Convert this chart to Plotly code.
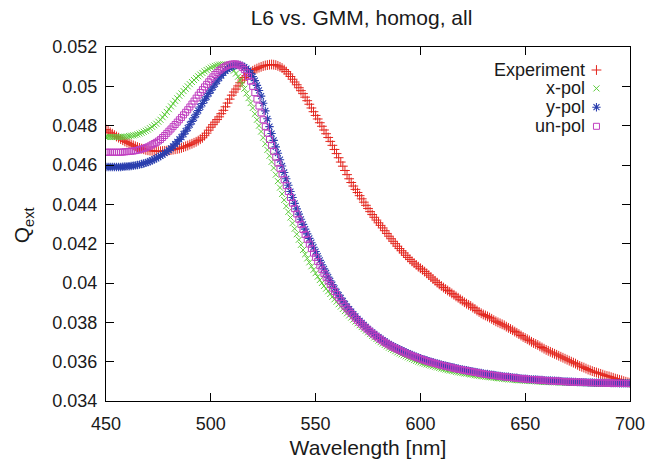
import plotly.graph_objects as go

# Wavelength grid (nm), 1 nm steps
wavelength = list(range(450, 701))

# Extinction efficiency Q_ext for each series
qext_experiment = [
    0.04780, 0.04773, 0.04766, 0.04759, 0.04752, 0.04745, 0.04739, 0.04732, 0.04726, 0.04720,
    0.04715, 0.04710, 0.04705, 0.04700, 0.04695, 0.04691, 0.04687, 0.04683, 0.04680, 0.04677,
    0.04675, 0.04673, 0.04672, 0.04671, 0.04670, 0.04670, 0.04670, 0.04671, 0.04672, 0.04673,
    0.04675, 0.04676, 0.04678, 0.04680, 0.04682, 0.04684, 0.04687, 0.04691, 0.04695, 0.04699,
    0.04704, 0.04708, 0.04713, 0.04718, 0.04724, 0.04731, 0.04738, 0.04749, 0.04762, 0.04777,
    0.04792, 0.04805, 0.04818, 0.04831, 0.04845, 0.04861, 0.04878, 0.04896, 0.04915, 0.04935,
    0.04955, 0.04971, 0.04986, 0.05002, 0.05018, 0.05032, 0.05045, 0.05054, 0.05063, 0.05071,
    0.05079, 0.05085, 0.05090, 0.05095, 0.05099, 0.05103, 0.05106, 0.05108, 0.05110, 0.05111,
    0.05110, 0.05108, 0.05104, 0.05099, 0.05093, 0.05085, 0.05075, 0.05063, 0.05050, 0.05036,
    0.05022, 0.05008, 0.04993, 0.04978, 0.04963, 0.04945, 0.04927, 0.04909, 0.04890, 0.04871,
    0.04852, 0.04834, 0.04815, 0.04797, 0.04778, 0.04759, 0.04740, 0.04720, 0.04700, 0.04679,
    0.04658, 0.04637, 0.04615, 0.04594, 0.04572, 0.04551, 0.04530, 0.04511, 0.04493, 0.04476,
    0.04460, 0.04444, 0.04428, 0.04411, 0.04395, 0.04379, 0.04363, 0.04348, 0.04334, 0.04320,
    0.04306, 0.04293, 0.04280, 0.04266, 0.04252, 0.04238, 0.04225, 0.04212, 0.04200, 0.04187,
    0.04175, 0.04164, 0.04153, 0.04141, 0.04130, 0.04120, 0.04110, 0.04101, 0.04092, 0.04083,
    0.04075, 0.04067, 0.04058, 0.04049, 0.04040, 0.04030, 0.04020, 0.04011, 0.04002, 0.03993,
    0.03985, 0.03977, 0.03969, 0.03962, 0.03955, 0.03947, 0.03940, 0.03932, 0.03925, 0.03917,
    0.03910, 0.03902, 0.03895, 0.03889, 0.03883, 0.03875, 0.03868, 0.03860, 0.03853, 0.03846,
    0.03840, 0.03835, 0.03830, 0.03824, 0.03818, 0.03811, 0.03805, 0.03800, 0.03795, 0.03790,
    0.03785, 0.03778, 0.03772, 0.03766, 0.03760, 0.03753, 0.03747, 0.03740, 0.03733, 0.03726,
    0.03720, 0.03714, 0.03708, 0.03701, 0.03695, 0.03690, 0.03685, 0.03678, 0.03672, 0.03666,
    0.03660, 0.03655, 0.03650, 0.03645, 0.03640, 0.03635, 0.03630, 0.03625, 0.03620, 0.03615,
    0.03610, 0.03605, 0.03600, 0.03595, 0.03590, 0.03584, 0.03578, 0.03574, 0.03570, 0.03565,
    0.03560, 0.03556, 0.03552, 0.03548, 0.03545, 0.03541, 0.03538, 0.03534, 0.03530, 0.03527,
    0.03525, 0.03521, 0.03518, 0.03514, 0.03511, 0.03508, 0.03505, 0.03501, 0.03498, 0.03495,
    0.03493,
]

qext_xpol = [
    0.04743, 0.04743, 0.04742, 0.04742, 0.04742, 0.04742, 0.04742, 0.04742, 0.04743, 0.04744,
    0.04745, 0.04747, 0.04749, 0.04751, 0.04753, 0.04756, 0.04760, 0.04764, 0.04769, 0.04774,
    0.04780, 0.04787, 0.04794, 0.04802, 0.04810, 0.04820, 0.04830, 0.04843, 0.04856, 0.04870,
    0.04884, 0.04898, 0.04912, 0.04926, 0.04939, 0.04952, 0.04964, 0.04976, 0.04988, 0.05000,
    0.05011, 0.05022, 0.05032, 0.05042, 0.05051, 0.05060, 0.05068, 0.05076, 0.05083, 0.05089,
    0.05095, 0.05100, 0.05104, 0.05107, 0.05110, 0.05111, 0.05112, 0.05111, 0.05108, 0.05101,
    0.05092, 0.05080, 0.05065, 0.05049, 0.05032, 0.05011, 0.04988, 0.04964, 0.04940, 0.04915,
    0.04890, 0.04860, 0.04830, 0.04800, 0.04770, 0.04739, 0.04708, 0.04677, 0.04647, 0.04616,
    0.04585, 0.04551, 0.04518, 0.04485, 0.04453, 0.04422, 0.04391, 0.04362, 0.04333, 0.04304,
    0.04276, 0.04248, 0.04220, 0.04194, 0.04168, 0.04146, 0.04125, 0.04105, 0.04085, 0.04067,
    0.04050, 0.04032, 0.04015, 0.04000, 0.03985, 0.03971, 0.03958, 0.03944, 0.03930, 0.03917,
    0.03905, 0.03892, 0.03880, 0.03868, 0.03857, 0.03846, 0.03835, 0.03824, 0.03814, 0.03804,
    0.03795, 0.03785, 0.03776, 0.03767, 0.03758, 0.03749, 0.03740, 0.03731, 0.03723, 0.03715,
    0.03707, 0.03699, 0.03692, 0.03685, 0.03678, 0.03671, 0.03665, 0.03659, 0.03653, 0.03647,
    0.03642, 0.03637, 0.03632, 0.03627, 0.03622, 0.03617, 0.03613, 0.03608, 0.03604, 0.03600,
    0.03596, 0.03592, 0.03589, 0.03586, 0.03583, 0.03580, 0.03577, 0.03574, 0.03571, 0.03568,
    0.03565, 0.03562, 0.03560, 0.03557, 0.03555, 0.03553, 0.03551, 0.03548, 0.03546, 0.03544,
    0.03542, 0.03540, 0.03539, 0.03537, 0.03535, 0.03533, 0.03531, 0.03529, 0.03528, 0.03526,
    0.03525, 0.03523, 0.03522, 0.03521, 0.03520, 0.03518, 0.03517, 0.03516, 0.03515, 0.03513,
    0.03512, 0.03511, 0.03510, 0.03509, 0.03508, 0.03507, 0.03506, 0.03505, 0.03505, 0.03504,
    0.03503, 0.03502, 0.03502, 0.03501, 0.03501, 0.03500, 0.03499, 0.03498, 0.03498, 0.03497,
    0.03497, 0.03496, 0.03496, 0.03495, 0.03495, 0.03495, 0.03495, 0.03494, 0.03494, 0.03493,
    0.03493, 0.03492, 0.03492, 0.03492, 0.03492, 0.03491, 0.03491, 0.03491, 0.03491, 0.03490,
    0.03490, 0.03490, 0.03490, 0.03489, 0.03489, 0.03489, 0.03489, 0.03488, 0.03488, 0.03488,
    0.03488, 0.03488, 0.03488, 0.03487, 0.03487, 0.03487, 0.03487, 0.03487, 0.03487, 0.03487,
    0.03487,
]

qext_ypol = [
    0.04590, 0.04590, 0.04590, 0.04590, 0.04590, 0.04590, 0.04590, 0.04590, 0.04591, 0.04592,
    0.04593, 0.04594, 0.04595, 0.04596, 0.04598, 0.04600, 0.04602, 0.04605, 0.04608, 0.04611,
    0.04615, 0.04619, 0.04624, 0.04629, 0.04634, 0.04640, 0.04646, 0.04653, 0.04660, 0.04667,
    0.04675, 0.04685, 0.04695, 0.04706, 0.04718, 0.04730, 0.04742, 0.04757, 0.04772, 0.04788,
    0.04805, 0.04822, 0.04840, 0.04858, 0.04877, 0.04895, 0.04913, 0.04930, 0.04947, 0.04964,
    0.04980, 0.04996, 0.05012, 0.05027, 0.05042, 0.05055, 0.05068, 0.05078, 0.05087, 0.05094,
    0.05100, 0.05104, 0.05108, 0.05109, 0.05109, 0.05104, 0.05098, 0.05090, 0.05080, 0.05066,
    0.05050, 0.05029, 0.05005, 0.04979, 0.04950, 0.04914, 0.04875, 0.04835, 0.04795, 0.04760,
    0.04725, 0.04692, 0.04660, 0.04627, 0.04595, 0.04562, 0.04530, 0.04497, 0.04465, 0.04435,
    0.04405, 0.04377, 0.04350, 0.04324, 0.04298, 0.04274, 0.04250, 0.04227, 0.04205, 0.04182,
    0.04160, 0.04137, 0.04115, 0.04093, 0.04072, 0.04051, 0.04030, 0.04011, 0.03992, 0.03973,
    0.03955, 0.03939, 0.03924, 0.03909, 0.03894, 0.03880, 0.03867, 0.03854, 0.03842, 0.03830,
    0.03818, 0.03807, 0.03797, 0.03787, 0.03777, 0.03767, 0.03758, 0.03749, 0.03741, 0.03733,
    0.03725, 0.03717, 0.03710, 0.03703, 0.03696, 0.03690, 0.03684, 0.03678, 0.03673, 0.03667,
    0.03662, 0.03657, 0.03652, 0.03647, 0.03643, 0.03638, 0.03634, 0.03629, 0.03625, 0.03621,
    0.03617, 0.03613, 0.03610, 0.03606, 0.03603, 0.03600, 0.03597, 0.03594, 0.03591, 0.03588,
    0.03585, 0.03582, 0.03580, 0.03577, 0.03575, 0.03572, 0.03570, 0.03567, 0.03565, 0.03562,
    0.03560, 0.03558, 0.03556, 0.03554, 0.03552, 0.03550, 0.03548, 0.03546, 0.03544, 0.03542,
    0.03540, 0.03538, 0.03537, 0.03535, 0.03534, 0.03532, 0.03531, 0.03529, 0.03528, 0.03526,
    0.03525, 0.03524, 0.03523, 0.03521, 0.03520, 0.03519, 0.03518, 0.03516, 0.03515, 0.03514,
    0.03513, 0.03512, 0.03511, 0.03510, 0.03510, 0.03509, 0.03508, 0.03507, 0.03507, 0.03506,
    0.03505, 0.03504, 0.03504, 0.03503, 0.03503, 0.03502, 0.03502, 0.03501, 0.03500, 0.03500,
    0.03499, 0.03498, 0.03498, 0.03497, 0.03497, 0.03496, 0.03496, 0.03496, 0.03495, 0.03495,
    0.03494, 0.03494, 0.03494, 0.03493, 0.03493, 0.03493, 0.03493, 0.03492, 0.03492, 0.03492,
    0.03492, 0.03491, 0.03491, 0.03491, 0.03491, 0.03490, 0.03490, 0.03490, 0.03490, 0.03490,
    0.03490,
]

qext_unpol = [
    0.04665, 0.04665, 0.04665, 0.04665, 0.04665, 0.04665, 0.04665, 0.04665, 0.04666, 0.04667,
    0.04668, 0.04669, 0.04670, 0.04671, 0.04673, 0.04675, 0.04678, 0.04681, 0.04684, 0.04688,
    0.04692, 0.04697, 0.04703, 0.04709, 0.04715, 0.04722, 0.04730, 0.04740, 0.04750, 0.04761,
    0.04772, 0.04783, 0.04795, 0.04806, 0.04818, 0.04830, 0.04842, 0.04855, 0.04868, 0.04881,
    0.04895, 0.04910, 0.04925, 0.04940, 0.04955, 0.04969, 0.04983, 0.04997, 0.05010, 0.05023,
    0.05036, 0.05048, 0.05060, 0.05070, 0.05080, 0.05088, 0.05096, 0.05102, 0.05107, 0.05110,
    0.05113, 0.05114, 0.05114, 0.05110, 0.05105, 0.05096, 0.05085, 0.05069, 0.05050, 0.05026,
    0.05000, 0.04968, 0.04935, 0.04900, 0.04865, 0.04830, 0.04795, 0.04762, 0.04730, 0.04700,
    0.04670, 0.04640, 0.04610, 0.04583, 0.04555, 0.04525, 0.04495, 0.04465, 0.04435, 0.04406,
    0.04378, 0.04351, 0.04324, 0.04298, 0.04272, 0.04247, 0.04222, 0.04198, 0.04175, 0.04152,
    0.04130, 0.04109, 0.04088, 0.04068, 0.04048, 0.04029, 0.04010, 0.03992, 0.03974, 0.03957,
    0.03941, 0.03925, 0.03910, 0.03896, 0.03882, 0.03869, 0.03857, 0.03845, 0.03833, 0.03821,
    0.03810, 0.03800, 0.03790, 0.03780, 0.03771, 0.03762, 0.03753, 0.03744, 0.03736, 0.03728,
    0.03720, 0.03712, 0.03705, 0.03698, 0.03691, 0.03685, 0.03679, 0.03673, 0.03668, 0.03663,
    0.03658, 0.03653, 0.03648, 0.03643, 0.03639, 0.03634, 0.03630, 0.03626, 0.03622, 0.03618,
    0.03614, 0.03610, 0.03607, 0.03603, 0.03600, 0.03597, 0.03594, 0.03591, 0.03588, 0.03585,
    0.03582, 0.03579, 0.03577, 0.03574, 0.03572, 0.03569, 0.03567, 0.03564, 0.03562, 0.03560,
    0.03558, 0.03556, 0.03554, 0.03552, 0.03550, 0.03548, 0.03546, 0.03544, 0.03542, 0.03540,
    0.03538, 0.03536, 0.03535, 0.03533, 0.03532, 0.03530, 0.03529, 0.03527, 0.03526, 0.03524,
    0.03523, 0.03522, 0.03521, 0.03520, 0.03519, 0.03517, 0.03516, 0.03515, 0.03514, 0.03513,
    0.03512, 0.03511, 0.03510, 0.03509, 0.03509, 0.03508, 0.03507, 0.03506, 0.03506, 0.03505,
    0.03504, 0.03503, 0.03503, 0.03502, 0.03502, 0.03501, 0.03501, 0.03500, 0.03499, 0.03498,
    0.03498, 0.03497, 0.03497, 0.03496, 0.03496, 0.03496, 0.03496, 0.03495, 0.03495, 0.03494,
    0.03494, 0.03493, 0.03493, 0.03493, 0.03493, 0.03492, 0.03492, 0.03492, 0.03492, 0.03491,
    0.03491, 0.03491, 0.03491, 0.03490, 0.03490, 0.03490, 0.03490, 0.03489, 0.03489, 0.03489,
    0.03489,
]

series_names = ["Experiment", "x-pol", "y-pol", "un-pol"]
series_values = [qext_experiment, qext_xpol, qext_ypol, qext_unpol]
x_ticks = [450, 500, 550, 600, 650, 700]
y_ticks = [0.034, 0.036, 0.038, 0.04, 0.042, 0.044, 0.046, 0.048, 0.05, 0.052]

for name, vals in zip(series_names, series_values):
    if len(vals) != len(wavelength):
        raise ValueError(f"{name}: {len(vals)} values for {len(wavelength)} wavelengths")

FONT = "Liberation Sans, Arial, Helvetica, sans-serif"
TEXT = "#1a1a1a"

styles = [
    dict(symbol="cross-thin", size=7, color="#e3261e", lw=1.0),
    dict(symbol="x-thin", size=6, color="#5ccc3a", lw=1.0),
    dict(symbol="asterisk", size=7, color="#2b3fae", lw=1.1),
    dict(symbol="square-open", size=6, color="#c03fc0", lw=1.0),
]

fig = go.Figure()

# Data series, in plotting order (un-pol ends up on top)
for name, vals, st in zip(series_names, series_values, styles):
    fig.add_trace(go.Scatter(
        x=wavelength, y=vals, mode="markers", name=name, showlegend=False,
        marker=dict(symbol=st["symbol"], size=st["size"], color=st["color"],
                    line=dict(color=st["color"], width=st["lw"])),
    ))

# Key: text right-aligned, sample marker to its right
key_rows_y = [0.935, 0.883, 0.830, 0.776]
for name, st, ky in zip(series_names, styles, key_rows_y):
    fig.add_trace(go.Scatter(
        x=[0.936], y=[ky], xaxis="x2", yaxis="y2", mode="markers", showlegend=False,
        marker=dict(symbol=st["symbol"], size=st["size"], color=st["color"],
                    line=dict(color=st["color"], width=st["lw"])),
        hoverinfo="skip",
    ))
    fig.add_annotation(x=0.917, y=ky, xref="paper", yref="paper", text=name,
                       showarrow=False, xanchor="right", yanchor="middle",
                       font=dict(family=FONT, size=18, color=TEXT))

axis_common = dict(
    showline=True, linecolor="black", linewidth=1.3, mirror="ticks",
    ticks="inside", ticklen=8, tickwidth=1.1, tickcolor="black",
    showgrid=False, zeroline=False, automargin=False,
    tickfont=dict(family=FONT, size=18, color=TEXT),
)

fig.update_layout(
    width=645, height=462,
    margin=dict(l=106, r=15, t=47, b=61),
    paper_bgcolor="white", plot_bgcolor="white",
    title=dict(text="L6 vs. GMM, homog, all", x=0.5605, y=0.961,
               xref="container", yref="container",
               xanchor="center", yanchor="middle",
               font=dict(family=FONT, size=21, color=TEXT)),
    xaxis=dict(range=[450, 700], tickvals=x_ticks, ticklabelstandoff=6,
               ticklabeloverflow="allow",
               title=dict(text="Wavelength [nm]", standoff=7,
                          font=dict(family=FONT, size=21, color=TEXT)),
               **axis_common),
    yaxis=dict(range=[0.034, 0.052], tickvals=y_ticks, ticklabelstandoff=4,
               **axis_common),
    xaxis2=dict(range=[0, 1], overlaying="x", visible=False),
    yaxis2=dict(range=[0, 1], overlaying="y", visible=False),
)

fig.add_annotation(x=-0.158, y=0.497, xref="paper", yref="paper",
                   text="Q<sub>ext</sub>", textangle=-90, showarrow=False,
                   xanchor="center", yanchor="middle",
                   font=dict(family=FONT, size=21, color=TEXT))

fig.write_html("out.html")
